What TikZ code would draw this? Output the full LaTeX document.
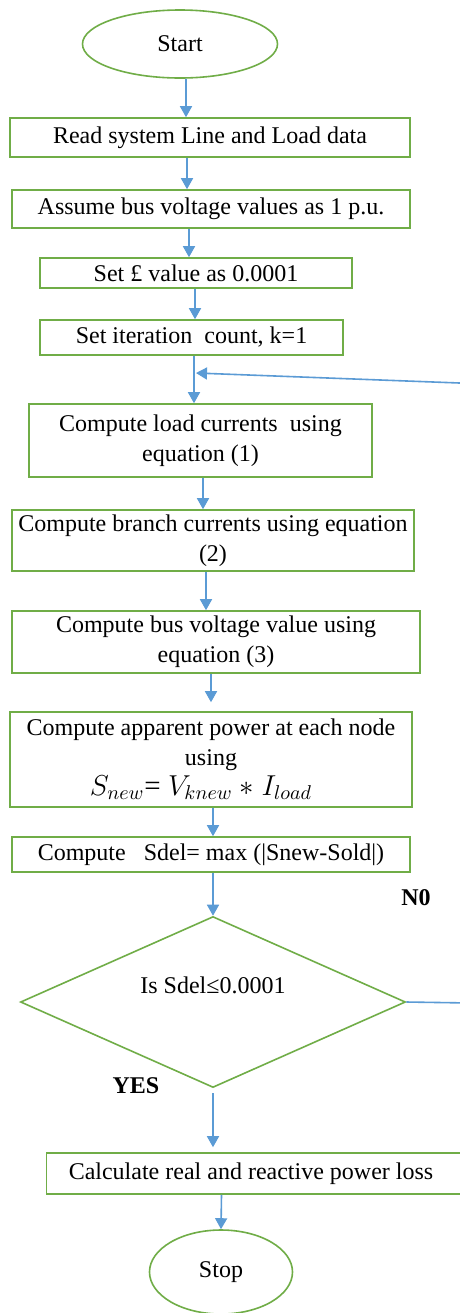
\documentclass[tikz,border=0pt]{standalone}
\usepackage{fontspec}
\setmainfont{Liberation Serif}
\usetikzlibrary{shapes.geometric,arrows.meta}
\definecolor{boxgreen}{HTML}{70AD47}
\definecolor{arrblue}{HTML}{5B9BD5}
\tikzset{
  stepbox/.style={draw=boxgreen, line width=0.8pt, rectangle, inner sep=0pt, align=center, font=\fontsize{12}{15}\selectfont},
  term/.style={draw=boxgreen, line width=0.8pt, ellipse, inner sep=0pt, font=\fontsize{12}{15}\selectfont},
  decision/.style={draw=boxgreen, line width=0.8pt, diamond, inner sep=0pt},
  txt/.style={inner sep=0pt, font=\fontsize{12}{15}\selectfont},
  lbl/.style={inner sep=0pt, font=\fontsize{12}{15}\selectfont\bfseries},
  arr/.style={draw=arrblue, line width=0.8pt, -{Triangle[width=6pt,length=5.5pt]}, fill=none}
}
\begin{document}
\begin{tikzpicture}[x=0.5pt,y=-0.5pt]
\useasboundingbox (0,0) rectangle (460,1313);
\clip (0,0) rectangle (460,1313);
\fill[white] (0,0) rectangle (460,1313);

\node[term, minimum width=97.5pt, minimum height=34pt] (start) at (180,44) {Start};
\node[stepbox, minimum width=200pt, minimum height=19.5pt] (b1) at (210,137.5) {Read system Line and Load data};
\node[stepbox, minimum width=199pt, minimum height=19pt] (b2) at (211,209) {Assume bus voltage values as 1 p.u.};
\node[stepbox, minimum width=156pt, minimum height=15pt] (b3) at (196,273) {Set £ value as 0.0001};
\node[stepbox, minimum width=151.5pt, minimum height=17.5pt] (b4) at (191.5,337.5) {Set iteration\ \ count, k=1};
\node[stepbox, minimum width=171.5pt, minimum height=36.5pt] (b5) at (200.5,440.5) {Compute load currents\ \ using\\ equation\ (1)};
\node[stepbox, minimum width=201pt, minimum height=30.5pt] (b6) at (213,540.5) {Compute branch\ currents\ using equation\\ (2)};
\node[stepbox, minimum width=204pt, minimum height=31pt] (b7) at (216,642) {Compute bus voltage value using\\ equation\ (3)};
\node[stepbox, minimum width=201pt, minimum height=47.5pt] (b8) at (211,759.5) {Compute apparent power at each\ node\\ using\\ {\fontsize{14.5}{15}\selectfont$S_{new}$= $V_{knew}$\ $*$ $I_{load}$}\hspace*{10pt}};
\node[stepbox, minimum width=199pt, minimum height=17.5pt] (b9) at (211,854.5) {Compute\ \ \ Sdel= max (|Snew-Sold|)};
\node[decision, minimum width=192.5pt, minimum height=85.5pt] (dia) at (213,1002) {};
\node[txt] (diatxt) at (213,985) {Is Sdel≤0.0001};
\node[stepbox, minimum width=211pt, minimum height=20.5pt] (b10) at (257.5,1173.5) {Calculate\ real\ and\ reactive\ power loss\hspace*{6.5pt}};
\node[term, minimum width=71.5pt, minimum height=42pt] (stop) at (221,1272) {Stop};

\node[lbl] (no) at (416,898) {N0};
\node[lbl] (yes) at (136,1086) {YES};

\draw[arr] ([xshift=3pt]start.south) -- ([xshift=3pt]start.south |- b1.north);
\draw[arr] ([xshift=-11.5pt]b1.south) -- ([xshift=-11.5pt]b1.south |- b2.north);
\draw[arr] ([xshift=-11pt]b2.south) -- ([xshift=-11pt]b2.south |- b3.north);
\draw[arr] ([xshift=-0.5pt]b3.south) -- ([xshift=-0.5pt]b3.south |- b4.north);
\draw[arr] ([xshift=1.25pt]b4.south) -- ([xshift=1.25pt]b4.south |- b5.north);
\draw[arr] ([xshift=1.25pt]b5.south) -- ([xshift=1.25pt]b5.south |- b6.north);
\draw[arr] ([xshift=-3.5pt]b6.south) -- ([xshift=-3.5pt]b6.south |- b7.north);
\draw[arr, shorten >=4.5pt] ([xshift=-2.5pt]b7.south) -- ([xshift=-2.5pt]b7.south |- b8.north);
\draw[arr] ([xshift=1pt]b8.south) -- ([xshift=1pt]b8.south |- b9.north);
\draw[arr] ([xshift=1pt]b9.south) -- (dia.north);
\draw[arr, shorten <=2.5pt, shorten >=2.5pt] (dia.south) -- (dia.south |- b10.north);
\draw[arr] ([xshift=-18pt]b10.south) -- (stop.north);

\coordinate (loopR) at (470,383.4);
\coordinate (loopL) at (196,373);
\draw[arr] (dia.east) -- (470,1003) -- (loopR) -- (loopL);
\end{tikzpicture}
\end{document}
